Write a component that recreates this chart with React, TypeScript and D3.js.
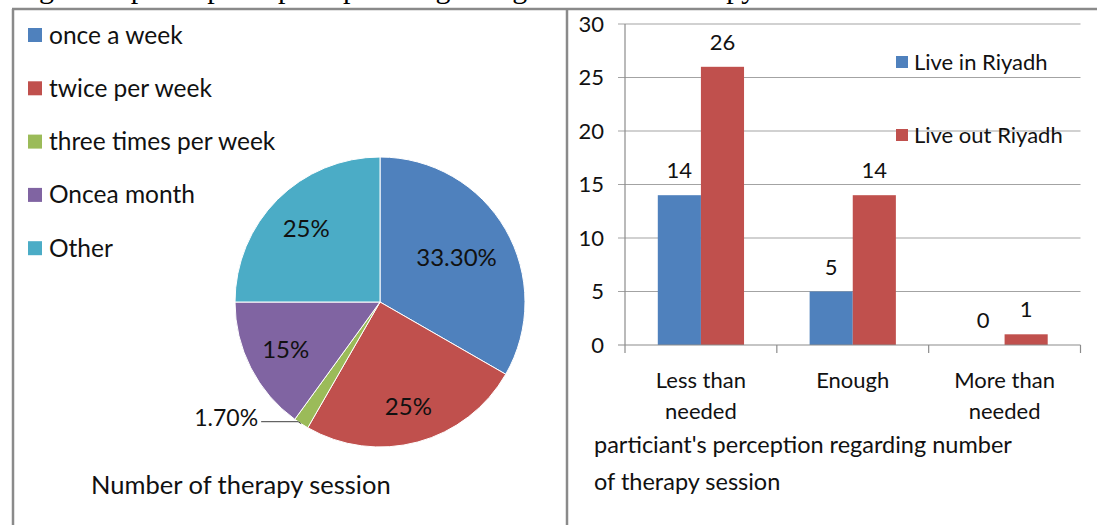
import React, { useEffect, useRef } from "react";
import * as d3 from "d3";

// left panel: pie of session frequency
const pieLabels = ["once a week", "twice per week", "three times per week", "Oncea month", "Other"];
const pieValues = [33.3, 25, 1.7, 15, 25];
const pieText = ["33.30%", "25%", "1.70%", "15%", "25%"];
const pieColors = ["#4F81BD", "#C0504D", "#9BBB59", "#8064A2", "#4BACC6"];

// right panel: grouped bars
const barCategories = [["Less than", "needed"], ["Enough"], ["More than", "needed"]];
const barSeries = ["Live in Riyadh", "Live out Riyadh"];
const liveIn = [14, 5, 0];
const liveOut = [26, 14, 1];
const barColors = ["#4F81BD", "#C0504D"];
const yTicks = [0, 5, 10, 15, 20, 25, 30];

const W = 1097;
const H = 525;
const FONT = "Lato, 'Open Sans', sans-serif";

const App: React.FC = () => {
  const svgRef = useRef<SVGSVGElement>(null);

  useEffect(() => {
    if (!svgRef.current) return;
    const svg = d3.select(svgRef.current);
    svg.selectAll("*").remove();

    // caption of the figure, cut off by the top edge of the picture
    svg
      .append("text")
      .attr("x", 14)
      .attr("y", -2)
      .attr("font-family", "'Liberation Serif', serif")
      .attr("font-size", 30)
      .attr("fill", "#000")
      .text("Figure 3: participants perception regarding number of therapy session");

    // panel borders
    svg.append("line").attr("x1", 12).attr("x2", W).attr("y1", 9).attr("y2", 9)
      .attr("stroke", "#8a8a8a").attr("stroke-width", 2.5);
    svg.append("line").attr("x1", 13).attr("x2", 13).attr("y1", 9).attr("y2", H)
      .attr("stroke", "#8a8a8a").attr("stroke-width", 2.5);
    svg.append("line").attr("x1", 567).attr("x2", 567).attr("y1", 9).attr("y2", H)
      .attr("stroke", "#8a8a8a").attr("stroke-width", 2.5);

    // ---- pie ----
    const cx = 380;
    const cy = 302;
    const r = 145;
    const labelR = [0.61, 0.75, 1, 0.73, 0.72];

    const pie = d3.pie<number>().sort(null).value((d) => d);
    const arcs = pie(pieValues);
    const arc = d3.arc<d3.PieArcDatum<number>>().innerRadius(0).outerRadius(r);

    const pg = svg.append("g").attr("transform", `translate(${cx},${cy})`);
    pg.selectAll("path")
      .data(arcs)
      .enter()
      .append("path")
      .attr("d", arc)
      .attr("fill", (_, i) => pieColors[i])
      .attr("stroke", "#ffffff")
      .attr("stroke-width", 1);

    arcs.forEach((a, i) => {
      const mid = (a.startAngle + a.endAngle) / 2;
      if (i === 2) {
        // small slice: outside label with leader line
        const ox = r * Math.sin(mid);
        const oy = -r * Math.cos(mid);
        pg.append("path")
          .attr("d", `M${ox - 40},${oy - 2}L${ox - 3},${oy - 2}L${ox},${oy}`)
          .attr("fill", "none")
          .attr("stroke", "#404040")
          .attr("stroke-width", 1);
        pg.append("text")
          .attr("x", ox - 43)
          .attr("y", oy - 6)
          .attr("dy", "0.35em")
          .attr("text-anchor", "end")
          .attr("font-family", FONT)
          .attr("font-size", 23)
          .attr("fill", "#111")
          .text(pieText[i]);
        return;
      }
      const lr = r * labelR[i];
      pg.append("text")
        .attr("x", lr * Math.sin(mid))
        .attr("y", -lr * Math.cos(mid))
        .attr("dy", "0.35em")
        .attr("text-anchor", "middle")
        .attr("font-family", FONT)
        .attr("font-size", 24)
        .attr("fill", "#111")
        .text(pieText[i]);
    });

    // pie legend
    const pl = svg.append("g");
    pieLabels.forEach((lab, i) => {
      const y = 35 + i * 53.3;
      pl.append("rect").attr("x", 28).attr("y", y - 7).attr("width", 14).attr("height", 14)
        .attr("fill", pieColors[i]);
      pl.append("text")
        .attr("x", 49)
        .attr("y", y)
        .attr("dy", "0.35em")
        .attr("font-family", FONT)
        .attr("font-size", 24.5)
        .attr("fill", "#111")
        .text(lab);
    });

    svg.append("text")
      .attr("x", 91)
      .attr("y", 494)
      .attr("font-family", FONT)
      .attr("font-size", 25.5)
      .attr("fill", "#111")
      .text("Number of therapy session");

    // ---- bars ----
    const x0 = d3.scaleBand<number>().domain([0, 1, 2]).range([625, 1080.5]);
    const bw = x0.bandwidth();
    const x1 = d3.scaleBand<number>().domain([0, 1]).range([bw * 0.216, bw * 0.784]);
    const y = d3.scaleLinear().domain([0, 30]).range([345, 24]);

    const bg = svg.append("g");
    yTicks.forEach((t) => {
      if (t > 0) {
        bg.append("line").attr("x1", 618).attr("x2", 1080.5).attr("y1", y(t)).attr("y2", y(t))
          .attr("stroke", "#a3a3a3").attr("stroke-width", 1.2);
      }
      bg.append("text")
        .attr("x", 604)
        .attr("y", y(t))
        .attr("dy", "0.35em")
        .attr("text-anchor", "end")
        .attr("font-family", FONT)
        .attr("font-size", 22)
        .attr("fill", "#111")
        .text(t);
    });

    const series = [liveIn, liveOut];
    series.forEach((vals, s) => {
      vals.forEach((v, c) => {
        const bx = (x0(c) as number) + (x1(s) as number);
        if (v > 0) {
          bg.append("rect")
            .attr("x", bx)
            .attr("y", y(v))
            .attr("width", x1.bandwidth())
            .attr("height", y(0) - y(v))
            .attr("fill", barColors[s]);
        }
        bg.append("text")
          .attr("x", bx + x1.bandwidth() / 2)
          .attr("y", y(v) - 17)
          .attr("text-anchor", "middle")
          .attr("font-family", FONT)
          .attr("font-size", 22)
          .attr("fill", "#111")
          .text(v);
      });
    });

    // axes lines
    bg.append("line").attr("x1", 625).attr("x2", 625).attr("y1", y(30)).attr("y2", y(0))
      .attr("stroke", "#8c8c8c").attr("stroke-width", 1.2);
    bg.append("line").attr("x1", 618).attr("x2", 1080.5).attr("y1", y(0)).attr("y2", y(0))
      .attr("stroke", "#8c8c8c").attr("stroke-width", 1.2);
    [0, 1, 2, 3].forEach((k) => {
      const tx = 625 + k * bw;
      bg.append("line").attr("x1", tx).attr("x2", tx).attr("y1", y(0)).attr("y2", y(0) + 8)
        .attr("stroke", "#8c8c8c").attr("stroke-width", 1.2);
    });

    barCategories.forEach((lines, c) => {
      const tx = (x0(c) as number) + bw / 2;
      lines.forEach((ln, j) => {
        bg.append("text")
          .attr("x", tx)
          .attr("y", 380 + j * 31)
          .attr("dy", "0.35em")
          .attr("text-anchor", "middle")
          .attr("font-family", FONT)
          .attr("font-size", 22)
          .attr("fill", "#111")
          .text(ln);
      });
    });

    // bar legend
    barSeries.forEach((name, s) => {
      const ly = 62 + s * 73;
      bg.append("rect").attr("x", 896).attr("y", ly - 6).attr("width", 12).attr("height", 12)
        .attr("fill", barColors[s]);
      bg.append("text")
        .attr("x", 914)
        .attr("y", ly)
        .attr("dy", "0.35em")
        .attr("font-family", FONT)
        .attr("font-size", 22)
        .attr("fill", "#111")
        .text(name);
    });

    ["particiant's perception regarding number", "of therapy session"].forEach((ln, j) => {
      bg.append("text")
        .attr("x", 594)
        .attr("y", 445 + j * 37)
        .attr("dy", "0.35em")
        .attr("font-family", FONT)
        .attr("font-size", 23.5)
        .attr("fill", "#111")
        .text(ln);
    });
  }, []);

  return (
    <svg
      ref={svgRef}
      width={W}
      height={H}
      style={{ position: "absolute", left: 0, top: 0, background: "#fff" }}
    />
  );
};

export default App;
